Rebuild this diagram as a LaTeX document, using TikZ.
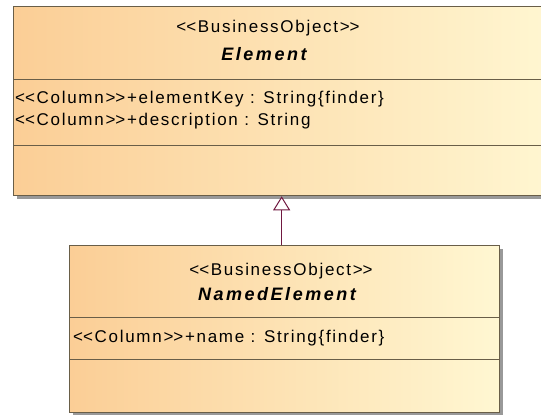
\documentclass[tikz,border=0pt]{standalone}
\usepackage{fontspec}
\setmainfont{Liberation Sans}[LetterSpace=10]
\newfontfamily\namefont{Liberation Sans}[LetterSpace=14]
\usetikzlibrary{arrows.meta,shadows}
\definecolor{peach}{RGB}{251,206,150}
\definecolor{cream}{RGB}{255,247,210}
\definecolor{umlline}{RGB}{105,94,72}
\definecolor{genline}{RGB}{112,24,64}
\newcommand{\stl}{<\kern0pt<}
\newcommand{\str}{>\kern0pt>}

\begin{document}
\begin{tikzpicture}[x=1pt,y=-1pt,
    classbox/.style={draw=umlline,line width=1.3pt,left color=peach,right color=cream,
      drop shadow={shadow xshift=3pt,shadow yshift=-3pt,fill=black!40,opacity=1},
      inner sep=0pt,anchor=north west},
    stereo/.style={font=\fontsize{17}{20}\selectfont,anchor=base,inner sep=0pt},
    clsname/.style={font=\namefont\fontsize{18}{21}\selectfont\bfseries\itshape,anchor=base,inner sep=0pt},
    attr/.style={font=\fontsize{17}{20}\selectfont,anchor=base west,inner sep=0pt}]
    \clip (0,0) rectangle (541,415);
    \fill[white] (0,0) rectangle (541,415);
    % superclass
    \node[classbox,minimum width=547pt,minimum height=189pt] (el) at (13,6) {};
    \draw[umlline] (13,79) -- (560,79);
    \draw[umlline] (13,145) -- (560,145);
    \node[stereo] (elst) at (268,32) {\stl BusinessObject\str};
    \node[clsname] (elnm) at (264,60) {Element};
    \node[attr] (elkey) at (15,103) {\stl Column\str+elementKey : String\{finder\}};
    \node[attr] (eldesc) at (15,125) {\stl Column\str+description : String};
    % subclass
    \node[classbox,minimum width=430pt,minimum height=167pt] (nel) at (69,245) {};
    \draw[umlline] (69,317) -- (499,317);
    \draw[umlline] (69,359) -- (499,359);
    \node[stereo] (nelst) at (281,275) {\stl BusinessObject\str};
    \node[clsname] (nelnm) at (277,300) {NamedElement};
    \node[attr] (nelname) at (73,342) {\stl Column\str+name : String\{finder\}};
    % generalization
    \coordinate (gen) at ([xshift=-3pt]nel.north);
    \draw[genline,line width=1pt,-{Triangle[open,length=14pt,width=17pt,fill=white]}]
      (gen) -- (gen |- el.south);
\end{tikzpicture}
\end{document}
